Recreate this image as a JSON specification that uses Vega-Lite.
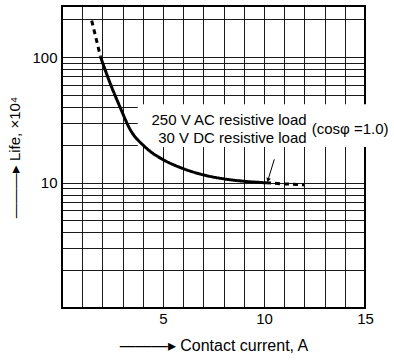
{
  "$schema": "https://vega.github.io/schema/vega-lite/v6.json",
  "width": 303,
  "height": 302,
  "autosize": {"type": "none"},
  "padding": {"left": 62, "top": 6, "right": 29, "bottom": 55},
  "background": "white",
  "config": {
    "view": {"stroke": null},
    "font": "Liberation Sans",
    "axis": {
      "grid": true,
      "gridColor": "#1a1a1a",
      "gridWidth": 1,
      "domain": false,
      "ticks": false,
      "labelFontSize": 15,
      "labelColor": "#000",
      "labelFont": "Liberation Sans",
      "labelFlush": false,
      "labelOverlap": false,
      "titleFontWeight": "normal",
      "titleColor": "#000",
      "titleFont": "Liberation Sans"
    }
  },
  "datasets": {
    "border": [
      {"x": 0, "x2": 15, "y": 255, "y2": 255},
      {"x": 15, "x2": 15, "y": 1, "y2": 255},
      {"x": 0, "x2": 0, "y": 1, "y2": 255},
      {"x": 0, "x2": 15, "y": 1, "y2": 1}
    ],
    "box": [{"x": 3.75, "x2": 16.4, "y": 19.2, "y2": 42}],
    "arrow": [{"x": 10.51, "x2": 10.2, "y": 15.3, "y2": 10.5}],
    "head": [{"x": 10.2, "y": 10.45}],
    "curve": [
      {"style": "dashA", "x": 1.47, "y": 195},
      {"style": "dashA", "x": 1.68, "y": 142},
      {"style": "dashA", "x": 1.9, "y": 101},
      {"style": "solid", "x": 1.9, "y": 101},
      {"style": "solid", "x": 2.38, "y": 62},
      {"style": "solid", "x": 2.87, "y": 40},
      {"style": "solid", "x": 3.37, "y": 26.5},
      {"style": "solid", "x": 4.11, "y": 19.2},
      {"style": "solid", "x": 5.01, "y": 15.2},
      {"style": "solid", "x": 5.84, "y": 13.2},
      {"style": "solid", "x": 7.0, "y": 11.5},
      {"style": "solid", "x": 8.0, "y": 10.7},
      {"style": "solid", "x": 9.1, "y": 10.2},
      {"style": "solid", "x": 10.1, "y": 9.95},
      {"style": "dashB", "x": 10.1, "y": 9.95},
      {"style": "dashB", "x": 11.0, "y": 9.75},
      {"style": "dashB", "x": 12.0, "y": 9.6}
    ],
    "labelsR": [
      {"x": 12.11, "y": 31.2, "text": "250 V AC resistive load"},
      {"x": 12.11, "y": 22.8, "text": "30 V DC resistive load"}
    ],
    "labelsL": [
      {"x": 12.36, "y": 26.5, "text": "(cosφ =1.0)"}
    ]
  },
  "encoding": {
    "x": {
      "field": "x", "type": "quantitative",
      "scale": {"domain": [0, 15], "nice": false, "zero": false},
      "axis": {
        "values": [0, 1, 2, 3, 4, 5, 6, 7, 8, 9, 10, 11, 12, 13, 14, 15],
        "labelExpr": "datum.value % 5 == 0 && datum.value > 0 ? datum.label : ''",
        "labelPadding": 3,
        "title": "———▸  Contact current, A",
        "titleFontSize": 16,
        "titlePadding": 11
      }
    },
    "y": {
      "field": "y", "type": "quantitative",
      "scale": {"type": "log", "domain": [1, 255], "nice": false},
      "axis": {
        "values": [1, 2, 3, 4, 5, 6, 7, 8, 9, 10, 20, 30, 40, 50, 60, 70, 80, 90, 100, 200],
        "labelExpr": "datum.value == 10 || datum.value == 100 ? datum.label : ''",
        "labelPadding": 5,
        "title": "———▸  Life, ×10⁴",
        "titleFontSize": 15,
        "titlePadding": 9
      }
    }
  },
  "layer": [
    {
      "data": {"name": "border"},
      "mark": {"type": "rule", "color": "#000", "strokeWidth": 2, "strokeCap": "square"},
      "encoding": {"x2": {"field": "x2"}, "y2": {"field": "y2"}}
    },
    {
      "data": {"name": "box"},
      "mark": {"type": "rect", "color": "white", "opacity": 1},
      "encoding": {"x2": {"field": "x2"}, "y2": {"field": "y2"}}
    },
    {
      "data": {"name": "arrow"},
      "mark": {"type": "rule", "color": "#000", "strokeWidth": 1},
      "encoding": {"x2": {"field": "x2"}, "y2": {"field": "y2"}}
    },
    {
      "data": {"name": "head"},
      "mark": {"type": "point", "shape": "triangle-down", "filled": true, "color": "#000", "size": 22, "angle": 17, "opacity": 1}
    },
    {
      "data": {"name": "curve"},
      "mark": {"type": "line", "color": "#000", "strokeWidth": 3, "interpolate": "monotone"},
      "encoding": {
        "strokeDash": {
          "field": "style", "type": "nominal",
          "scale": {"domain": ["solid", "dashA", "dashB"], "range": [[1, 0], [5, 4], [5, 4]]},
          "legend": null
        }
      }
    },
    {
      "data": {"name": "labelsR"},
      "mark": {"type": "text", "fontSize": 15, "font": "Liberation Sans", "color": "#000", "baseline": "middle", "align": "right"},
      "encoding": {"text": {"field": "text"}}
    },
    {
      "data": {"name": "labelsL"},
      "mark": {"type": "text", "fontSize": 15, "font": "Liberation Sans", "color": "#000", "baseline": "middle", "align": "left"},
      "encoding": {"text": {"field": "text"}}
    }
  ]
}
